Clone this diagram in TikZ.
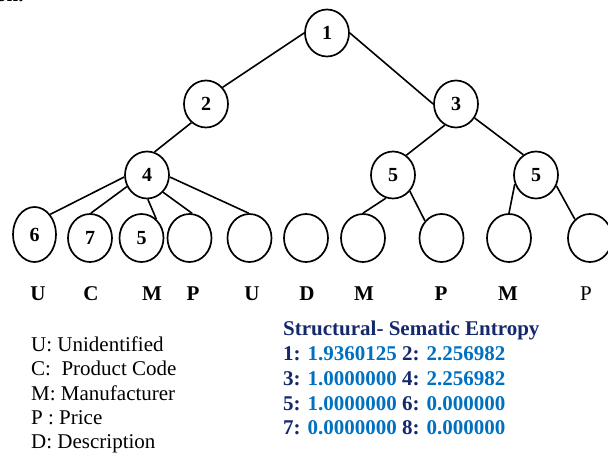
\documentclass[tikz,border=0pt]{standalone}
\usepackage{fontspec}
\setmainfont{Liberation Serif}
\usetikzlibrary{shapes.geometric}
\definecolor{navy}{HTML}{14286B}
\definecolor{valblue}{HTML}{0070C0}
\tikzset{
  tnode/.style={draw, ellipse, line width=1.7pt, minimum width=44pt, minimum height=47pt, inner sep=0pt, font=\fontsize{20}{20}\selectfont\bfseries},
  leaf/.style={tnode, minimum height=48pt},
  edge/.style={line width=1.6pt},
  lbl/.style={anchor=base, inner sep=0pt, font=\fontsize{21}{21}\selectfont\bfseries},
  txt/.style={anchor=base west, inner sep=0pt, font=\fontsize{21}{21}\selectfont},
}
\newcommand{\ek}[1]{\textcolor{navy}{#1}}
\newcommand{\ev}[1]{\textcolor{valblue}{#1}}
\begin{document}
\begin{tikzpicture}[x=1pt,y=-1pt]
\useasboundingbox (0,0) rectangle (608,454);
\node[txt, font=\fontsize{21}{21}\selectfont\bfseries] (frag) at (-4,2) {on.};
% internal nodes
\node[tnode] (n1) at (327,33) {1};
\node[tnode] (n2) at (206,104) {2};
\node[tnode] (n3) at (456,104) {3};
\node[tnode] (n4) at (147,175) {4};
\node[tnode] (n5a) at (393,175) {5};
\node[tnode] (n5b) at (536,175) {5};
% leaves
\node[leaf, minimum width=43pt, minimum height=55pt] (l1) at (34.5,234.5) {6};
\node[leaf] (l2) at (90,238) {7};
\node[leaf] (l3) at (141.5,238) {5};
\node[leaf] (l4) at (189.5,238) {};
\node[leaf] (l5) at (249.5,238) {};
\node[leaf] (l6) at (306,238) {};
\node[leaf] (l7) at (363,238) {};
\node[leaf] (l8) at (441.5,238) {};
\node[leaf] (l9) at (509,238) {};
\node[leaf] (l10) at (590,238) {};
% edges
\draw[edge] (n1.180) -- (n2.45);
\draw[edge] (n1.0) -- (n3.180);
\draw[edge] (n2.232) -- (n4.72);
\draw[edge] (n3.242) -- (n5a.56);
\draw[edge] (n3.323) -- (n5b.122);
\draw[edge] (n4.185) -- (l1.52);
\draw[edge] (n4.210) -- (l2.88);
\draw[edge] (n4.272) -- (l3.52);
\draw[edge] (n4.313) -- (l4.84);
\draw[edge] (n4.355) -- (l5.92);
\draw[edge] (n5a.253) -- (l7.90);
\draw[edge] (n5a.316) -- (l8.134);
\draw[edge] (n5b.203) -- (l9.90);
\draw[edge] (n5b.332) -- (l10.129);
% attribute letters
\node[lbl] (a1) at (38,301) {U};
\node[lbl] (a2) at (91,301) {C};
\node[lbl] (a3) at (152,301) {M};
\node[lbl] (a4) at (193,301) {P};
\node[lbl] (a5) at (252,301) {U};
\node[lbl] (a6) at (307,301) {D};
\node[lbl] (a7) at (364,301) {M};
\node[lbl] (a8) at (441,301) {P};
\node[lbl] (a9) at (508,301) {M};
\node[lbl, font=\fontsize{21}{21}\selectfont] (a10) at (586,301) {P};
% legend
\node[txt] (g1) at (31,352) {U: Unidentified};
\node[txt] (g2) at (31,376) {C:\ \ Product Code};
\node[txt] (g3) at (31,400) {M: Manufacturer};
\node[txt] (g4) at (31,424) {P : Price};
\node[txt] (g5) at (31,448) {D: Description};
% entropy
\node[txt, font=\fontsize{21}{21}\selectfont\bfseries, text=navy] (e0) at (283,336) {Structural- Sematic Entropy};
\node[txt, font=\fontsize{21}{21}\selectfont\bfseries] (e1) at (283,361) {\ek{1:} \ev{1.9360125} \ek{2:} \ev{2.256982}};
\node[txt, font=\fontsize{21}{21}\selectfont\bfseries] (e2) at (283,385) {\ek{3:} \ev{1.0000000} \ek{4:} \ev{2.256982}};
\node[txt, font=\fontsize{21}{21}\selectfont\bfseries] (e3) at (283,410) {\ek{5:} \ev{1.0000000} \ek{6:} \ev{0.000000}};
\node[txt, font=\fontsize{21}{21}\selectfont\bfseries] (e4) at (283,434) {\ek{7:} \ev{0.0000000} \ek{8:} \ev{0.000000}};
\end{tikzpicture}
\end{document}
